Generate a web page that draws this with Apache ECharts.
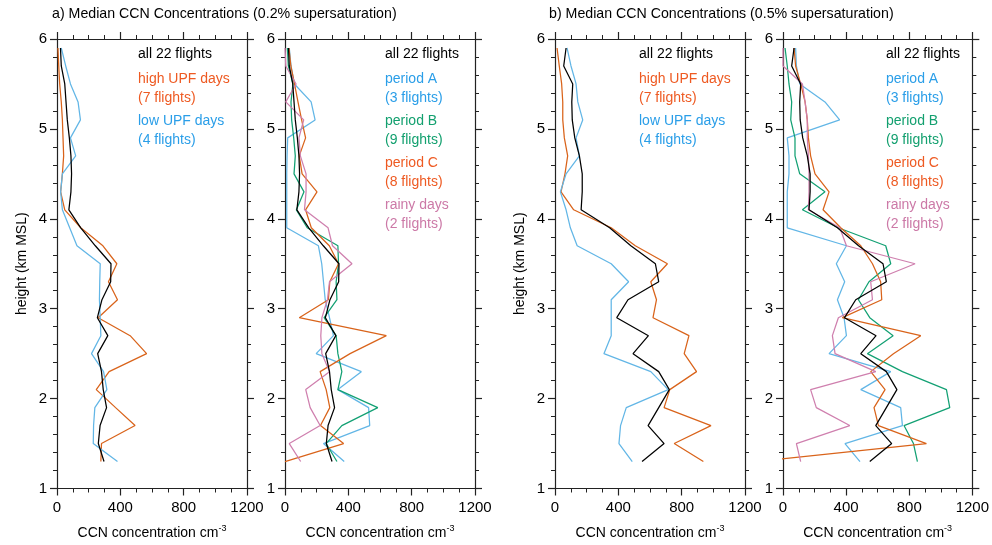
<!DOCTYPE html>
<html>
<head>
<meta charset="utf-8">
<script src="https://cdn.jsdelivr.net/npm/echarts@6/dist/echarts.min.js"></script>
<style>
html,body{margin:0;padding:0;background:#fff;}
#c{width:992px;height:545px;}
</style>
</head>
<body>
<div id="c"></div>
<script>
// heights (km MSL) of each median level
const heights = [1.3,1.5,1.7,1.9,2.1,2.3,2.5,2.7,2.9,3.1,3.3,3.5,3.7,3.9,4.1,4.3,4.5,4.7,4.9,5.1,5.3,5.5,5.7,5.9];

// a) 0.2% supersaturation
const a_all    = [297,261,272,313,292,281,257,321,255,284,339,341,242,150,75,88,92,88,78,65,57,49,27,22];
const a_highUPF= [277,281,493,370,248,329,566,462,260,382,325,378,290,150,49,23,34,42,38,34,27,17,11,6];
const a_lowUPF = [382,229,231,239,315,294,218,277,273,268,270,273,126,80,34,23,34,118,85,148,133,85,55,27];
const a_perA   = [374,243,535,528,334,482,197,306,281,254,243,232,211,11,11,11,11,13,17,190,165,59,38,27];
const a_perB   = [328,260,359,586,334,359,334,323,247,328,323,338,334,140,72,120,57,65,55,42,38,50,21,15];
const a_perC   = [0,370,224,283,260,222,411,640,90,274,283,338,280,166,130,202,108,90,130,105,82,60,37,25];
const a_rainy  = [99,27,222,159,131,281,233,226,233,268,281,423,300,272,123,133,133,97,88,118,5,70,5,0];

// b) 0.5% supersaturation
const b_all    = [550,689,588,655,722,655,493,590,390,461,655,634,479,345,165,172,172,154,125,109,106,112,55,70];
const b_highUPF= [937,753,985,689,725,894,816,846,619,641,605,710,507,355,118,38,63,80,59,49,49,42,27,13];
const b_lowUPF = [488,404,414,450,715,605,309,355,355,355,465,355,140,97,70,34,70,154,133,175,144,133,101,76];
const b_perA   = [488,393,757,746,493,683,292,402,387,345,391,338,402,27,27,27,38,38,27,359,266,106,85,80];
const b_perB   = [852,827,767,1057,1036,757,535,698,550,478,545,683,651,350,123,266,106,76,76,49,55,38,27,13];
const b_perC   = [-160,909,605,577,647,556,700,873,376,626,619,567,493,366,254,292,203,175,161,154,140,112,80,70];
const b_rainy  = [112,85,423,211,175,588,330,313,351,567,556,837,402,360,161,165,165,161,154,154,140,123,0,0];

// axis ticks
const xTicks = [0,400,800,1200];
const yTicks = [1,2,3,4,5,6];

const panelTitles = ['a) Median CCN Concentrations (0.2% supersaturation)', 'b) Median CCN Concentrations (0.5% supersaturation)'];

const C = {
  black:'#000000', orange:'#d9631a', blue:'#62b6e6', green:'#12a073', pink:'#cf7fae',
  tOrange:'#ee5a22', tBlue:'#2a9ee8', tGreen:'#13a06f', tPink:'#cc79a7'
};
const FONT = '"Liberation Sans", Arial, Helvetica, sans-serif';

const lefts = [57, 285, 555, 783];
const TOP = 39, H = 453, W = 190;

const grids = lefts.map(l => ({left:l, top:TOP, width:W, height:H}));

const axisLineStyle = {color:'#222', width:1.2};
const xAxes = [], yAxes = [];
lefts.forEach((l, i) => {
  // bottom x axis
  xAxes.push({
    type:'value', gridIndex:i, position:'bottom', min:xTicks[0], max:xTicks[xTicks.length-1], interval:400,
    axisLine:{show:true, onZero:false, lineStyle:axisLineStyle},
    axisTick:{show:true, length:7, lineStyle:axisLineStyle},
    minorTick:{show:true, splitNumber:4, length:4, lineStyle:{color:'#222', width:1}},
    splitLine:{show:false}, minorSplitLine:{show:false},
    axisLabel:{fontSize:15, color:'#000', margin:12, fontFamily:FONT, formatter:v => String(v)},
    name:'{n|CCN concentration cm}{s|-3}', nameLocation:'middle', nameGap:36,
    nameTextStyle:{rich:{n:{fontSize:14, color:'#000', fontFamily:FONT, lineHeight:17},
                         s:{fontSize:9, color:'#000', fontFamily:FONT, lineHeight:9, verticalAlign:'top'}}}
  });
  // top x axis (ticks only)
  xAxes.push({
    type:'value', gridIndex:i, position:'top', min:0, max:1200, interval:400,
    axisLine:{show:true, onZero:false, lineStyle:axisLineStyle},
    axisTick:{show:true, length:7, lineStyle:axisLineStyle},
    minorTick:{show:true, splitNumber:4, length:4, lineStyle:{color:'#222', width:1}},
    splitLine:{show:false}, axisLabel:{show:false}
  });
  yAxes.push({
    type:'value', gridIndex:i, position:'left', min:yTicks[0], max:yTicks[yTicks.length-1], interval:1,
    axisLine:{show:true, onZero:false, lineStyle:axisLineStyle},
    axisTick:{show:true, length:7, lineStyle:axisLineStyle},
    minorTick:{show:true, splitNumber:5, length:4, lineStyle:{color:'#222', width:1}},
    splitLine:{show:false},
    axisLabel:{fontSize:15, color:'#000', margin:10, fontFamily:FONT},
    name:(i===0||i===2)?'height (km MSL)':'', nameLocation:'middle', nameGap:28,
    nameTextStyle:{fontSize:14, color:'#000', fontFamily:FONT}
  });
  yAxes.push({
    type:'value', gridIndex:i, position:'right', min:1, max:6, interval:1,
    axisLine:{show:true, onZero:false, lineStyle:axisLineStyle},
    axisTick:{show:true, length:7, lineStyle:axisLineStyle},
    minorTick:{show:true, splitNumber:5, length:4, lineStyle:{color:'#222', width:1}},
    splitLine:{show:false}, axisLabel:{show:false}
  });
});

function mk(vals, panel, color) {
  return {
    type:'line', xAxisIndex:panel*2, yAxisIndex:panel*2,
    data: heights.map((h, k) => [vals[k], h]),
    showSymbol:false, symbol:'none', silent:true, animation:false, clip:false,
    lineStyle:{color:color, width:1.25}, itemStyle:{color:color}
  };
}

const series = [
  mk(a_highUPF,0,C.orange), mk(a_lowUPF,0,C.blue), mk(a_all,0,C.black),
  mk(a_perA,1,C.blue), mk(a_perB,1,C.green), mk(a_perC,1,C.orange), mk(a_rainy,1,C.pink), mk(a_all,1,C.black),
  mk(b_highUPF,2,C.orange), mk(b_lowUPF,2,C.blue), mk(b_all,2,C.black),
  mk(b_perA,3,C.blue), mk(b_perB,3,C.green), mk(b_perC,3,C.orange), mk(b_rainy,3,C.pink), mk(b_all,3,C.black)
];

const legendA = [['all 22 flights',C.black,54],['high UPF days',C.tOrange,79],['(7 flights)',C.tOrange,98],['low UPF days',C.tBlue,121],['(4 flights)',C.tBlue,140]];
const legendB = [['all 22 flights',C.black,54],['period A',C.tBlue,79],['(3 flights)',C.tBlue,98],['period B',C.tGreen,121],['(9 flights)',C.tGreen,140],
                 ['period C',C.tOrange,163],['(8 flights)',C.tOrange,182],['rainy days',C.tPink,205],['(2 flights)',C.tPink,224]];
const legX = [138, 385, 639, 886];
const graphics = [];
[legendA, legendB, legendA, legendB].forEach((lg, i) => {
  lg.forEach(([t, c, y]) => graphics.push({type:'text', x:legX[i], y:y, silent:true,
    style:{text:t, fill:c, font:'14px '+FONT, verticalAlign:'middle', align:'left'}}));
});
graphics.push({type:'text', x:52, y:14, style:{text:panelTitles[0], fill:'#000', font:'14.2px '+FONT, verticalAlign:'middle'}});
graphics.push({type:'text', x:549, y:14, style:{text:panelTitles[1], fill:'#000', font:'14.2px '+FONT, verticalAlign:'middle'}});

const chart = echarts.init(document.getElementById('c'), null, {renderer:'canvas'});
chart.setOption({
  animation:false, backgroundColor:'#fff',
  textStyle:{fontFamily:FONT},
  grid:grids, xAxis:xAxes, yAxis:yAxes, series:series, graphic:graphics
});
</script>
</body>
</html>
